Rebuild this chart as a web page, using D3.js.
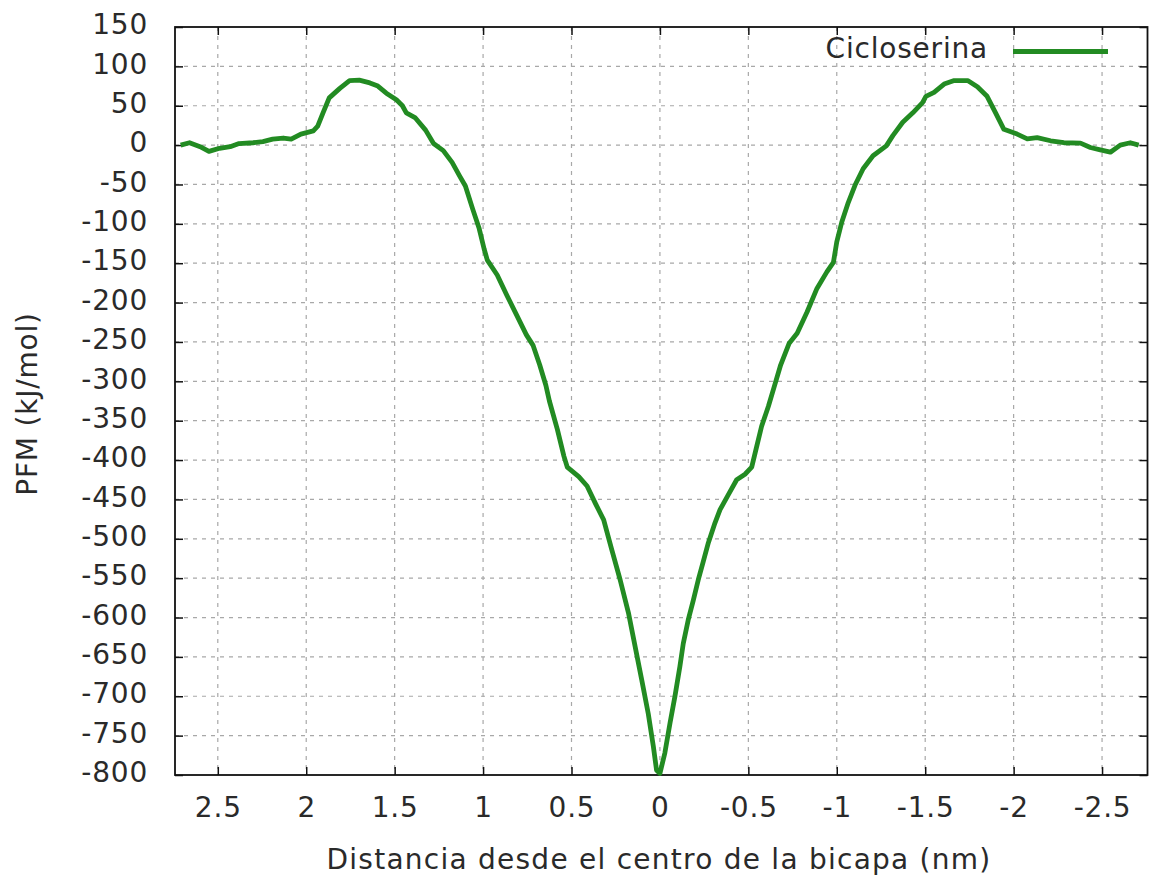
<!DOCTYPE html>
<html>
<head>
<meta charset="utf-8">
<script src="https://cdn.jsdelivr.net/npm/d3@7"></script>
<style>
  body { margin: 0; background: white; }
  svg text { font-family: "DejaVu Sans", sans-serif; fill: #2a2a2a; letter-spacing: 0.8px; }
</style>
</head>
<body>
<div id="chart"></div>
<script>
// distance from bilayer centre (nm), left to right as drawn
var distancia = [
  2.71, 2.66, 2.60, 2.55, 2.49, 2.43, 2.38, 2.30, 2.245, 2.19, 2.13, 2.085, 2.03, 1.96, 1.935,
  1.905, 1.87, 1.81, 1.755, 1.70, 1.64, 1.595, 1.547, 1.49, 1.456, 1.434, 1.385, 1.325, 1.28,
  1.225, 1.175, 1.133, 1.10, 1.059, 1.022, 0.994, 0.976, 0.92, 0.865, 0.81, 0.755, 0.718, 0.68,
  0.645, 0.625, 0.58, 0.543, 0.524, 0.459, 0.412, 0.365, 0.318, 0.272, 0.225, 0.178, 0.14,
  0.103, 0.066, 0.037, 0.019, 0.0,
  -0.028, -0.057, -0.085, -0.113, -0.132, -0.16, -0.189, -0.217, -0.245, -0.274, -0.311, -0.34,
  -0.387, -0.434, -0.481, -0.519, -0.547, -0.575, -0.613, -0.646, -0.683, -0.73, -0.776, -0.832,
  -0.888, -0.944, -0.981, -1.0, -1.028, -1.065, -1.103, -1.149, -1.205, -1.28, -1.317, -1.373,
  -1.43, -1.485, -1.504, -1.55, -1.607, -1.664, -1.74, -1.795, -1.85, -1.898, -1.945, -2.02,
  -2.077, -2.133, -2.209, -2.284, -2.378, -2.434, -2.49, -2.547, -2.603, -2.66, -2.707
];

// PMF, kJ/mol
var cicloserina = [
  0, 3, -2, -8, -4, -2, 2, 3, 4.5, 7.5, 9, 7.5, 14, 18, 24,
  41, 60, 72, 82, 82.5, 79, 75, 66, 57.5, 50, 41, 35, 19, 2,
  -7, -22, -39, -52, -81, -106, -132, -146, -165, -191, -216, -241, -254, -279,
  -305, -325, -361, -395, -409, -421, -433, -455, -476, -514, -552, -594, -637,
  -679, -722, -764, -794, -798,
  -772, -734, -700, -662, -633, -603, -578, -552, -529, -505, -480, -463,
  -444, -425, -418, -409, -383, -357, -332, -307, -279, -252, -239, -212,
  -182, -161, -149, -123, -98, -73, -51, -30, -13.5, -1, 12, 29,
  41, 54, 62, 67, 77.5, 82, 82, 74, 62, 41, 20, 14,
  8, 9.5, 5.5, 3, 2.5, -3, -6, -9, 0, 3, 0
];

var xTicks = [2.5, 2, 1.5, 1, 0.5, 0, -0.5, -1, -1.5, -2, -2.5];
var yTicks = d3.range(150, -801, -50);

var margin = {top: 27, right: 1.5, bottom: 102, left: 175},
    width = 1149 - margin.left - margin.right,
    height = 877 - margin.top - margin.bottom;

var x = d3.scaleLinear()
    .domain([2.742, -2.757])
    .range([0, width]);

var y = d3.scaleLinear()
    .domain([-800, 150])
    .range([height, 0]);

var svg = d3.select("#chart").append("svg")
    .attr("width", 1149)
    .attr("height", 877)
    .append("g")
    .attr("transform", "translate(" + margin.left + "," + margin.top + ")");

// grid
svg.append("g")
    .selectAll("line")
    .data(xTicks)
    .enter().append("line")
    .attr("x1", function(d) { return x(d); })
    .attr("x2", function(d) { return x(d); })
    .attr("y1", 0)
    .attr("y2", height)
    .style("stroke", "#a8a8a8")
    .style("stroke-width", 1.2)
    .style("stroke-dasharray", "4,5");

svg.append("g")
    .selectAll("line")
    .data(yTicks.slice(1, -1))
    .enter().append("line")
    .attr("x1", 0)
    .attr("x2", width)
    .attr("y1", function(d) { return y(d); })
    .attr("y2", function(d) { return y(d); })
    .style("stroke", "#a8a8a8")
    .style("stroke-width", 1.2)
    .style("stroke-dasharray", "4,5");

// axes with inward ticks, mirrored on top/right
var fmt = function(d) { return d3.format("")(d).replace("−", "-"); };

var xAxis = d3.axisBottom(x).tickValues(xTicks).tickSize(-8).tickPadding(22).tickFormat(fmt);
var yAxis = d3.axisLeft(y).tickValues(yTicks).tickSize(-8).tickPadding(27).tickFormat(fmt);

svg.append("g")
    .attr("class", "x axis")
    .attr("transform", "translate(0," + height + ")")
    .call(xAxis);

svg.append("g")
    .attr("class", "y axis")
    .call(yAxis);

svg.append("g")
    .call(d3.axisTop(x).tickValues(xTicks).tickSize(-8).tickFormat(""));

svg.append("g")
    .attr("transform", "translate(" + width + ",0)")
    .call(d3.axisRight(y).tickValues(yTicks).tickSize(-8).tickFormat(""));

svg.selectAll(".domain").remove();
svg.selectAll(".tick line").style("stroke", "#111").style("stroke-width", 1.5);
svg.selectAll(".axis text").style("font-size", "28px").style("fill", "#2a2a2a")
    .style("font-family", "DejaVu Sans, sans-serif");
svg.selectAll(".y.axis text").attr("dy", "0.24em");

svg.append("rect")
    .attr("width", width)
    .attr("height", height)
    .style("fill", "none")
    .style("stroke", "#111")
    .style("stroke-width", 1.8);

// curve
var line = d3.line()
    .x(function(d, i) { return x(distancia[i]); })
    .y(function(d) { return y(d); });

svg.append("path")
    .datum(cicloserina)
    .style("fill", "none")
    .style("stroke", "#228b22")
    .style("stroke-width", 4.8)
    .style("stroke-linejoin", "round")
    .attr("d", line);

// legend
svg.append("text")
    .attr("x", 988 - margin.left)
    .attr("y", 58 - margin.top)
    .attr("text-anchor", "end")
    .style("font-size", "28px")
    .text("Cicloserina");

svg.append("line")
    .attr("x1", 1013 - margin.left)
    .attr("x2", 1108 - margin.left)
    .attr("y1", 51.5 - margin.top)
    .attr("y2", 51.5 - margin.top)
    .style("stroke", "#228b22")
    .style("stroke-width", 4.8);

// axis titles
svg.append("text")
    .attr("x", 659 - margin.left)
    .attr("y", 868.5 - margin.top)
    .attr("text-anchor", "middle")
    .style("font-size", "28px")
    .style("letter-spacing", "1.25px")
    .text("Distancia desde el centro de la bicapa (nm)");

svg.append("text")
    .attr("transform", "translate(" + (27 - margin.left) + "," + (404 - margin.top) + ") rotate(-90)")
    .attr("dy", "0.35em")
    .attr("text-anchor", "middle")
    .style("font-size", "28px")
    .text("PFM (kJ/mol)");
</script>
</body>
</html>
